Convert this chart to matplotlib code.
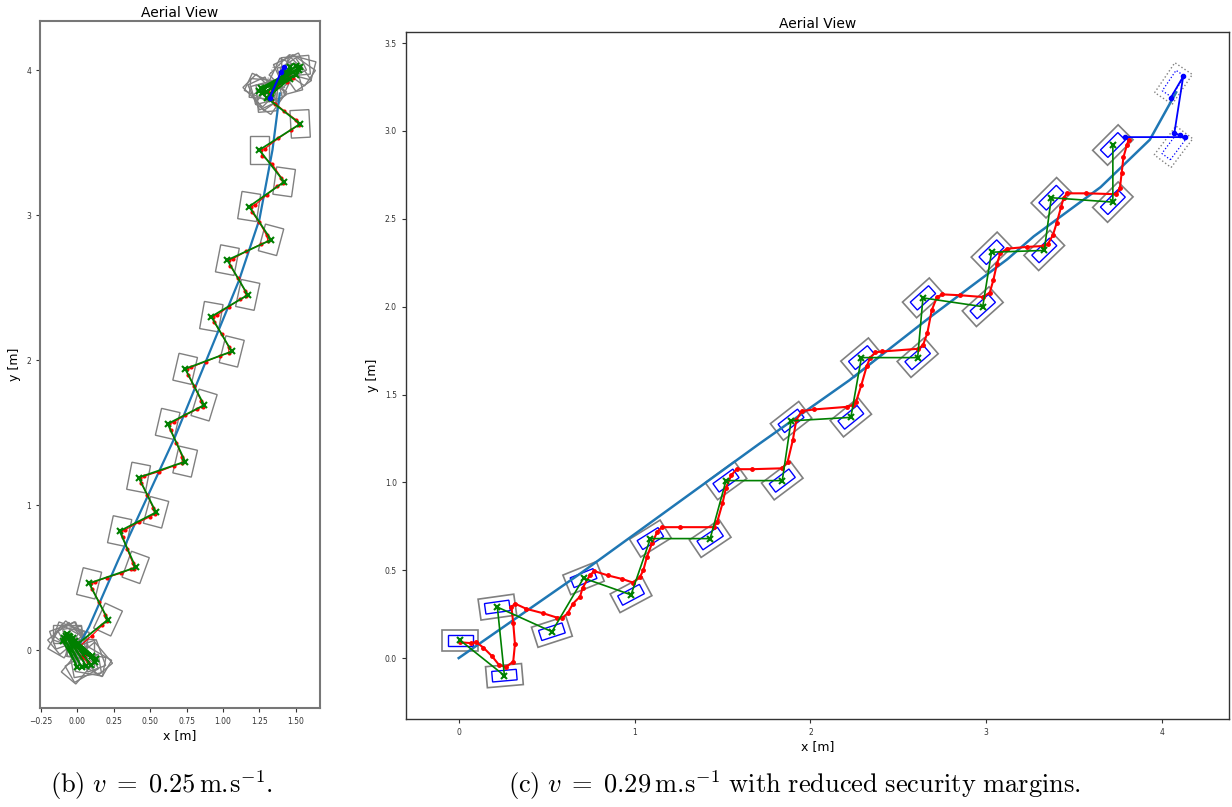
import matplotlib
matplotlib.use("Agg")
import matplotlib.pyplot as plt
from matplotlib.patches import Rectangle

plt.rcParams["mathtext.fontset"] = "cm"

# ----------------------------
# Data: left panel (b)
# ----------------------------
ref_b_x = [0.02, 0.08, 0.28, 0.67, 1.11, 1.25, 1.34, 1.39]
ref_b_y = [0.05, 0.16, 0.62, 1.47, 2.55, 2.97, 3.45, 3.84]

# rotation in place at the start
start_x = [-0.10, 0.00, -0.09, 0.03, -0.08, 0.06, -0.07, 0.09, -0.06, 0.12, -0.05, 0.13,
           -0.03, 0.10, -0.02, 0.05, 0.00]
start_y = [0.06, -0.12, 0.08, -0.12, 0.10, -0.11, 0.11, -0.10, 0.10, -0.08, 0.09, -0.06,
           0.08, -0.04, 0.06, -0.02, 0.04]
start_a = [150, 140, 130, 120, 110, 100, 90, 80, 70, 60, 50, 40, 30, 20, 10, 0, -10]

# zigzag waypoints
wp_b_x = [0.21, 0.08, 0.40, 0.29, 0.54, 0.42, 0.74, 0.62, 0.87, 0.74, 1.06, 0.92, 1.17, 1.03,
          1.33, 1.18, 1.42, 1.25, 1.53]
wp_b_y = [0.21, 0.46, 0.57, 0.82, 0.95, 1.19, 1.30, 1.56, 1.69, 1.94, 2.06, 2.30, 2.45, 2.69,
          2.83, 3.06, 3.23, 3.45, 3.63]
wp_b_a = [-25, -14, -20, -12, -15, -11, -13, -13, -17, -13, -14, -10, -12, -11, -15, -9, -8, 0, 3]

# rotation in place at the end
end_x = [1.30, 1.46, 1.27, 1.50, 1.25, 1.52, 1.26, 1.53, 1.28, 1.50, 1.30, 1.46, 1.32, 1.43,
         1.33, 1.41]
end_y = [3.81, 3.94, 3.84, 3.97, 3.86, 4.00, 3.88, 4.02, 3.87, 4.03, 3.85, 4.02, 3.83, 3.99,
         3.81, 3.97]
end_a = [5, 15, 25, 35, 45, 55, 65, 75, 85, 95, 105, 115, 125, 135, 145, 155]

red_b_x = [0.02, 0.10, 0.17, 0.20, 0.19, 0.15, 0.10, 0.09, 0.12, 0.20, 0.30, 0.37, 0.39, 0.38,
           0.34, 0.31, 0.30, 0.33, 0.42, 0.50, 0.53, 0.52, 0.48, 0.44, 0.43, 0.46, 0.56, 0.66,
           0.72, 0.72, 0.68, 0.64, 0.63, 0.66, 0.74, 0.82, 0.86, 0.85, 0.80, 0.76, 0.75, 0.78,
           0.88, 0.98, 1.04, 1.04, 0.99, 0.94, 0.93, 0.96, 1.04, 1.12, 1.16, 1.15, 1.10, 1.05,
           1.04, 1.07, 1.16, 1.26, 1.31, 1.30, 1.25, 1.20, 1.19, 1.22, 1.30, 1.37, 1.41, 1.40,
           1.34, 1.27, 1.26, 1.29, 1.38, 1.47, 1.52, 1.50, 1.42, 1.36, 1.33]
red_b_y = [0.03, 0.10, 0.17, 0.20, 0.24, 0.33, 0.42, 0.46, 0.47, 0.50, 0.53, 0.56, 0.56, 0.60,
           0.70, 0.78, 0.82, 0.83, 0.88, 0.92, 0.94, 0.98, 1.07, 1.15, 1.19, 1.20, 1.23, 1.27,
           1.29, 1.33, 1.43, 1.52, 1.56, 1.57, 1.62, 1.66, 1.68, 1.72, 1.82, 1.90, 1.94, 1.95,
           1.99, 2.03, 2.05, 2.09, 2.18, 2.26, 2.30, 2.31, 2.37, 2.42, 2.44, 2.48, 2.57, 2.65,
           2.69, 2.70, 2.75, 2.80, 2.82, 2.86, 2.95, 3.02, 3.06, 3.07, 3.14, 3.20, 3.22, 3.26,
           3.35, 3.41, 3.45, 3.46, 3.53, 3.59, 3.62, 3.66, 3.72, 3.77, 3.80]

# red samples during the final rotation
red_end_x = [1.35, 1.40, 1.45, 1.48, 1.44, 1.38, 1.31, 1.28]
red_end_y = [3.88, 3.93, 3.97, 3.95, 3.92, 3.90, 3.86, 3.84]
# red samples during the start rotation
red_start_x = [-0.05, -0.02, 0.03, 0.07, 0.05, 0.00, -0.04]
red_start_y = [0.07, 0.02, -0.05, -0.08, -0.03, 0.03, 0.05]

blue_b_x = [1.32, 1.40, 1.42]
blue_b_y = [3.81, 3.99, 4.02]

# ----------------------------
# Data: right panel (c)
# ----------------------------
ref_c_x = [0.00, 0.69, 1.71, 2.22, 2.68, 3.12, 3.27, 3.65, 3.93, 4.08]
ref_c_y = [0.00, 0.48, 1.22, 1.58, 1.94, 2.27, 2.40, 2.68, 2.95, 3.22]

wp_c_x = [0.01, 0.26, 0.22, 0.53, 0.71, 0.98, 1.09, 1.43, 1.52, 1.84, 1.89, 2.23, 2.29, 2.61,
          2.64, 2.98, 3.03, 3.33, 3.37, 3.72, 3.72]
wp_c_y = [0.10, -0.10, 0.29, 0.15, 0.455, 0.36, 0.68, 0.68, 1.01, 1.01, 1.35, 1.37, 1.71, 1.71,
          2.05, 2.00, 2.31, 2.32, 2.62, 2.595, 2.92]
wp_c_a = [0, 5, 8, 18, 22, 28, 32, 34, 36, 37, 38, 39, 40, 41, 42, 42, 44, 44, 45, 45, 45]

red_c_x = [0.005, 0.07, 0.10, 0.14, 0.19, 0.23, 0.27, 0.31, 0.32, 0.31, 0.30, 0.32, 0.385, 0.48,
           0.56, 0.59, 0.62, 0.65, 0.69, 0.705, 0.745, 0.77, 0.85, 0.93, 0.99, 1.03, 1.05, 1.07,
           1.10, 1.13, 1.155, 1.26, 1.45, 1.47, 1.50, 1.52, 1.55, 1.58, 1.67, 1.84, 1.87, 1.90,
           1.92, 1.95, 2.02, 2.21, 2.24, 2.26, 2.29, 2.32, 2.34, 2.37, 2.41, 2.61, 2.64, 2.665,
           2.69, 2.72, 2.75, 2.85, 2.98, 3.02, 3.04, 3.06, 3.08, 3.12, 3.23, 3.32, 3.35, 3.38,
           3.40, 3.425, 3.44, 3.46, 3.57, 3.74, 3.76, 3.77, 3.78, 3.80, 3.81, 3.79]
red_c_y = [0.09, 0.085, 0.09, 0.06, 0.01, -0.04, -0.05, -0.02, 0.08, 0.20, 0.29, 0.31, 0.28,
           0.255, 0.23, 0.23, 0.255, 0.31, 0.35, 0.40, 0.47, 0.495, 0.47, 0.45, 0.43, 0.46, 0.50,
           0.575, 0.655, 0.72, 0.745, 0.745, 0.745, 0.775, 0.88, 0.97, 1.04, 1.075, 1.075, 1.08,
           1.115, 1.24, 1.355, 1.405, 1.415, 1.43, 1.44, 1.46, 1.555, 1.66, 1.71, 1.74, 1.745,
           1.76, 1.78, 1.85, 1.98, 2.055, 2.07, 2.065, 2.055, 2.08, 2.15, 2.24, 2.305, 2.33,
           2.34, 2.345, 2.355, 2.41, 2.475, 2.565, 2.62, 2.645, 2.645, 2.64, 2.675, 2.76, 2.85,
           2.92, 2.95, 2.965]

blue_c_x = [3.79, 4.13, 4.10, 4.07, 4.12, 4.05]
blue_c_y = [2.965, 2.965, 2.975, 2.99, 3.31, 3.19]

final_c_x = [4.065, 4.065]
final_c_y = [2.91, 3.27]
final_c_a = [53, 56]


def add_rect(ax, cx, cy, w, h, angle, **kw):
    ax.add_patch(Rectangle((cx - w / 2, cy - h / 2), w, h, angle=angle,
                           rotation_point="center", fill=False, **kw))


def style_axes(ax, spine_color, spine_lw, tick_size):
    for s in ax.spines.values():
        s.set_color(spine_color)
        s.set_linewidth(spine_lw)
    ax.tick_params(labelsize=tick_size, length=3, width=0.8, colors="#333333")
    ax.set_title("Aerial View", fontsize=10, pad=3)
    ax.set_xlabel("x [m]", fontsize=9, labelpad=2)
    ax.set_ylabel("y [m]", fontsize=9, labelpad=4)


fig = plt.figure(figsize=(12.32, 8.07), dpi=100)

# ----------------------------
# Panel (b)
# ----------------------------
axb = fig.add_axes([0.0325, 0.1227, 0.2273, 0.8513])
for x, y, a in zip(start_x + wp_b_x + end_x, start_y + wp_b_y + end_y, start_a + wp_b_a + end_a):
    add_rect(axb, x, y, 0.13, 0.19, a, edgecolor="gray", lw=1.0)
add_rect(axb, 1.37, 3.92, 0.13, 0.22, -25, edgecolor="gray", lw=0.8, ls=":")
axb.plot(ref_b_x, ref_b_y, color="#1f77b4", lw=1.6)
axb.plot(red_b_x, red_b_y, color="red", lw=0.8, marker="o", ms=2)
axb.plot(red_start_x, red_start_y, color="red", lw=0.8, marker="o", ms=2)
axb.plot(red_end_x, red_end_y, color="red", lw=0.8, marker="o", ms=2)
gx = start_x + wp_b_x + end_x
gy = start_y + wp_b_y + end_y
axb.plot(gx, gy, color="green", lw=1.3, marker="x", ms=5, mew=1.5)
axb.plot(blue_b_x, blue_b_y, color="blue", lw=1.5, marker="o", ms=3)
axb.set_xlim(-0.257, 1.667)
axb.set_ylim(-0.40, 4.34)
axb.set_xticks([-0.25, 0.0, 0.25, 0.5, 0.75, 1.0, 1.25, 1.5])
axb.set_xticklabels(["\u22120.25", "0.00", "0.25", "0.50", "0.75", "1.00", "1.25", "1.50"])
axb.set_yticks([0, 1, 2, 3, 4])
style_axes(axb, "#777777", 1.5, 5.5)

# ----------------------------
# Panel (c)
# ----------------------------
axc = fig.add_axes([0.3295, 0.109, 0.668, 0.8513])
for x, y, a in zip(wp_c_x, wp_c_y, wp_c_a):
    add_rect(axc, x, y, 0.205, 0.12, a, edgecolor="gray", lw=1.2)
    add_rect(axc, x, y, 0.14, 0.06, a, edgecolor="blue", lw=1.0)
for x, y, a in zip(final_c_x, final_c_y, final_c_a):
    add_rect(axc, x, y, 0.205, 0.12, a, edgecolor="gray", lw=1.0, ls=":")
    add_rect(axc, x, y, 0.14, 0.06, a, edgecolor="blue", lw=0.9, ls=":")
axc.plot(ref_c_x, ref_c_y, color="#1f77b4", lw=1.8)
axc.plot(red_c_x, red_c_y, color="red", lw=1.5, marker="o", ms=2.5)
axc.plot(wp_c_x, wp_c_y, color="green", lw=1.2, marker="x", ms=5, mew=1.5)
axc.plot(blue_c_x, blue_c_y, color="blue", lw=1.3, marker="o", ms=3)
axc.set_xlim(-0.30, 4.38)
axc.set_ylim(-0.347, 3.563)
axc.set_xticks([0, 1, 2, 3, 4])
axc.set_yticks([0.0, 0.5, 1.0, 1.5, 2.0, 2.5, 3.0, 3.5])
style_axes(axc, "#333333", 1.0, 5.5)

# captions
fig.text(0.1315, 0.027, r"$\mathrm{(b)}\ v \;=\; 0.25\,\mathrm{m}.\!\mathrm{s}^{-1}.$",
         ha="center", va="center", fontsize=19)
fig.text(0.645, 0.027,
         r"$\mathrm{(c)}\ v \;=\; 0.29\,\mathrm{m}.\!\mathrm{s}^{-1}\ \mathrm{with\ reduced\ security\ margins.}$",
         ha="center", va="center", fontsize=19)

fig.savefig("out.png", dpi=100)
